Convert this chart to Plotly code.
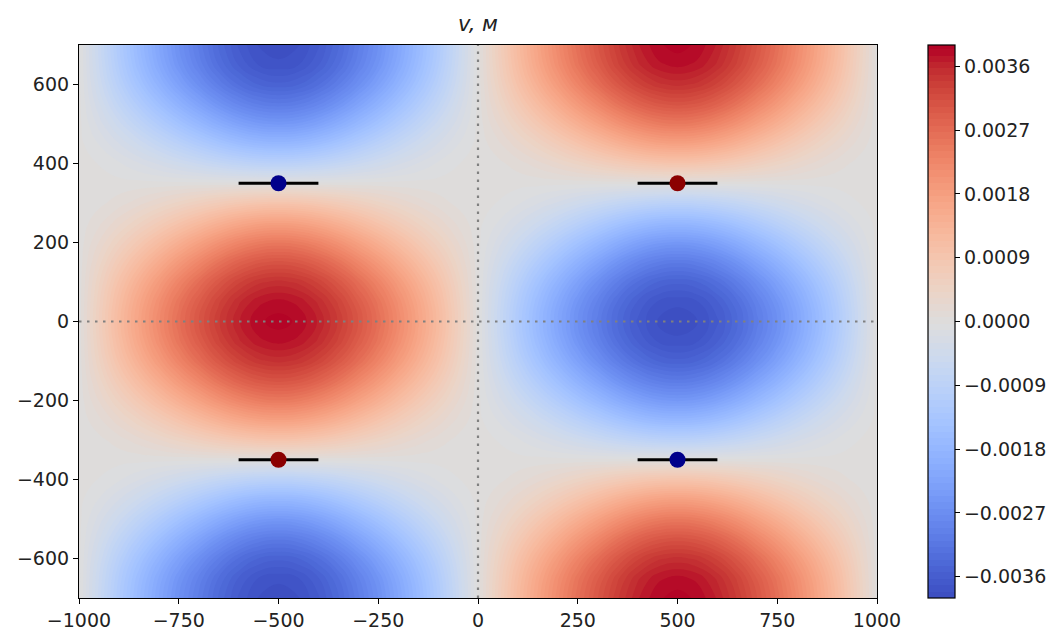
import plotly.graph_objects as go

# ---- data ----
# Field values (in units of the peak amplitude) read on one quarter-cell of the pattern:
# rows: distance from the blob centre along y = 0, 50, ..., 350
# cols: distance from the blob centre along x = 0, 50, ..., 500
quarter_dy = [0, 50, 100, 150, 200, 250, 300, 350]
quarter_dx = [0, 50, 100, 150, 200, 250, 300, 350, 400, 450, 500]
quarter_vals = [
    [1.000, 0.985, 0.940, 0.870, 0.780, 0.680, 0.565, 0.440, 0.305, 0.155, 0.0],
    [0.975, 0.960, 0.915, 0.845, 0.755, 0.657, 0.544, 0.422, 0.291, 0.147, 0.0],
    [0.905, 0.890, 0.845, 0.776, 0.688, 0.593, 0.486, 0.373, 0.254, 0.127, 0.0],
    [0.790, 0.775, 0.732, 0.665, 0.582, 0.494, 0.397, 0.299, 0.199, 0.096, 0.0],
    [0.640, 0.626, 0.586, 0.526, 0.452, 0.375, 0.294, 0.214, 0.136, 0.063, 0.0],
    [0.455, 0.444, 0.411, 0.362, 0.304, 0.244, 0.184, 0.127, 0.076, 0.032, 0.0],
    [0.240, 0.233, 0.213, 0.184, 0.150, 0.116, 0.082, 0.052, 0.027, 0.0085, 0.0],
    [0.0, 0.0, 0.0, 0.0, 0.0, 0.0, 0.0, 0.0, 0.0, 0.0, 0.0],
]
amplitude = 0.00388
blob_centres_x = [-500, 500]      # red at y=0 on the left, blue on the right
blob_period_y = 700               # sign flips every 700 in y

x_vals = [-1000 + 50 * i for i in range(41)]
y_vals = [-700 + 50 * j for j in range(29)]

dot_x = [-500, -500, 500, 500]
dot_y = [350, -350, 350, -350]
dot_colors = ["#00008b", "#8b0000", "#8b0000", "#00008b"]
bar_half = 100

ref_x = [-1000, 1000]
ref_y = [-700, 700]

cbar_ticks = [-0.0036, -0.0027, -0.0018, -0.0009, 0.0, 0.0009, 0.0018, 0.0027, 0.0036]
x_ticks = [-1000, -750, -500, -250, 0, 250, 500, 750, 1000]
y_ticks = [-600, -400, -200, 0, 200, 400, 600]
title_text = "v, м"

# ---- assemble the full table by reflecting the quarter-cell ----
def lookup(x, y):
    sx = 1 if x <= 0 else -1
    dx = abs(x - (blob_centres_x[0] if x <= 0 else blob_centres_x[1]))
    ay = abs(y)
    sy = 1
    if ay > blob_period_y / 2:
        ay = blob_period_y - ay
        sy = -1
    return sx * sy * quarter_vals[quarter_dy.index(ay)][quarter_dx.index(dx)]

z = [[amplitude * lookup(x, y) for x in x_vals] for y in y_vals]

coolwarm = [
    (59, 76, 192), (68, 90, 204), (77, 104, 215), (87, 117, 225), (98, 130, 234),
    (108, 142, 241), (119, 154, 247), (130, 165, 251), (141, 176, 254), (152, 185, 255),
    (163, 194, 255), (173, 201, 253), (184, 208, 249), (194, 213, 244), (204, 217, 238),
    (213, 219, 230), (221, 221, 221), (229, 216, 209), (236, 211, 197), (241, 204, 185),
    (245, 196, 173), (247, 187, 160), (247, 177, 148), (247, 166, 135), (244, 154, 123),
    (241, 141, 111), (236, 127, 99), (229, 112, 88), (222, 96, 77), (213, 80, 66),
    (203, 62, 56), (192, 40, 47), (180, 4, 38)]
n = len(coolwarm) - 1
colorscale = [[i / n, "rgb(%d,%d,%d)" % c] for i, c in enumerate(coolwarm)]

FONT = "DejaVu Sans"
TICK_SIZE = 19
fig = go.Figure()
fig.add_trace(go.Contour(
    x=x_vals, y=y_vals, z=z,
    colorscale=colorscale, zmin=-0.0039, zmax=0.0039,
    contours=dict(start=-0.0039, end=0.0039, size=0.00009, coloring="fill", showlines=False),
    line=dict(width=0, smoothing=1.3),
    colorbar=dict(
        tickvals=cbar_ticks, tickformat=".4f", tickprefix="\u2009\u2009",
        ticks="outside", ticklen=5,
        tickcolor="black", tickfont=dict(family=FONT, size=TICK_SIZE, color="#222"),
        thickness=27, len=553, lenmode="pixels", y=0.5, yanchor="middle", ypad=0,
        x=(928 - 79) / 798, xanchor="left", xpad=0,
        outlinewidth=1.2, outlinecolor="black"),
    showscale=True, hoverinfo="skip"))

# reference dotted lines
dot_style = dict(color="grey", width=2.2, dash="2.5px,5.5px")
fig.add_trace(go.Scatter(x=ref_x, y=[0, 0], mode="lines", line=dot_style, showlegend=False))
fig.add_trace(go.Scatter(x=[0, 0], y=ref_y, mode="lines", line=dot_style, showlegend=False))

# bars and dots
for xd, yd in zip(dot_x, dot_y):
    fig.add_trace(go.Scatter(x=[xd - bar_half, xd + bar_half], y=[yd, yd], mode="lines",
                             line=dict(color="black", width=3), showlegend=False))
fig.add_trace(go.Scatter(x=dot_x, y=dot_y, mode="markers",
                         marker=dict(color=dot_colors, size=16, line=dict(width=0)),
                         showlegend=False))

axis_common = dict(showline=True, linecolor="black", linewidth=1.2, mirror=True,
                   ticks="outside", ticklen=5, tickcolor="black", showgrid=False,
                   zeroline=False, automargin=False,
                   tickfont=dict(family=FONT, size=TICK_SIZE, color="#222"))
fig.update_xaxes(range=[-1000, 1000], tickvals=x_ticks, **axis_common)
fig.update_yaxes(range=[-700, 700], tickvals=y_ticks, **axis_common)

fig.update_layout(
    width=1062, height=633,
    margin=dict(l=79, r=185, t=45, b=35, autoexpand=False),
    paper_bgcolor="white", plot_bgcolor="white",
    title=dict(text="<i>" + title_text + "</i>", x=(79 + 399) / 1062, xanchor="center",
               y=1 - 24 / 633, yanchor="middle",
               font=dict(family=FONT, size=21, color="#222")),
    showlegend=False)

fig.write_html("out.html")
